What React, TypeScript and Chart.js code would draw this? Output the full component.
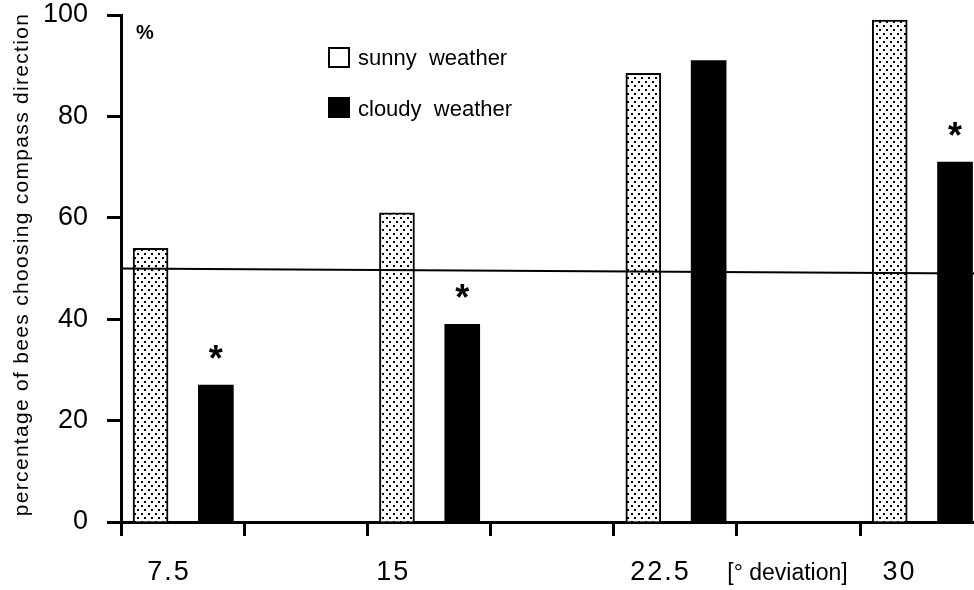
import React, { useEffect, useRef } from "react";
import { Chart, registerables } from "chart.js";

Chart.register(...registerables);

// ---------- data ----------
const categories = ["7.5", "15", "22.5", "30"];
const sunnyValues = [54, 61, 88.5, 99];
const cloudyValues = [27, 39, 91, 71];
const significant = [true, true, false, true]; // asterisk above the cloudy bar
const chanceLine = [50, 49]; // left end, right end (as drawn)
const yTickValues = [0, 20, 40, 60, 80, 100];
const seriesNames = ["sunny  weather", "cloudy  weather"];
const unitLabel = "[° deviation]";
const yTitle = "percentage of bees choosing compass direction";
const yUnit = "%";

// ---------- layout (axis units, not data) ----------
const GROUP_SPAN = 2;
const SUNNY_OFFSET = 0.24;
const CLOUDY_OFFSET = 0.77;
const LABEL_POS = [0.39, 2.21, 4.38, 6.32];
const UNIT_LABEL_POS = 5.41;
const X_MAX = 6.924;
const FONT = "'Liberation Sans', Arial, Helvetica, sans-serif";

function makeDotPattern(ctx: CanvasRenderingContext2D) {
  const c = document.createElement("canvas");
  c.width = 7;
  c.height = 8;
  const p = c.getContext("2d")!;
  p.fillStyle = "#fff";
  p.fillRect(0, 0, 7, 8);
  p.fillStyle = "#000";
  p.fillRect(1, 1, 2, 2);
  p.fillRect(4, 5, 2, 2);
  return ctx.createPattern(c, "repeat")!;
}

const textPlugin = {
  id: "figureText",
  afterDraw(chart: any) {
    const ctx: CanvasRenderingContext2D = chart.ctx;
    const xs = chart.scales.x;
    const ys = chart.scales.y;
    const area = chart.chartArea;
    ctx.save();
    ctx.fillStyle = "#000";

    // y axis title
    ctx.save();
    ctx.translate(28, (area.top + area.bottom) / 2 - 4);
    ctx.rotate(-Math.PI / 2);
    ctx.font = `21px ${FONT}`;
    (ctx as any).letterSpacing = "1.3px";
    ctx.textAlign = "center";
    ctx.textBaseline = "alphabetic";
    ctx.fillText(yTitle, 0, 0);
    ctx.restore();

    // % unit
    ctx.font = `bold 20px ${FONT}`;
    ctx.textAlign = "center";
    ctx.textBaseline = "alphabetic";
    ctx.fillText(yUnit, 145, 39);

    // category labels
    ctx.font = `27px ${FONT}`;
    (ctx as any).letterSpacing = "2px";
    categories.forEach((c, i) => {
      ctx.fillText(c, xs.getPixelForValue(LABEL_POS[i]), 580);
    });
    (ctx as any).letterSpacing = "0px";
    ctx.font = `23px ${FONT}`;
    ctx.fillText(unitLabel, xs.getPixelForValue(UNIT_LABEL_POS), 580);

    // asterisks
    ctx.font = `bold 36px ${FONT}`;
    significant.forEach((s, i) => {
      if (!s) return;
      const x = xs.getPixelForValue(i * GROUP_SPAN + CLOUDY_OFFSET);
      const top = ys.getPixelForValue(cloudyValues[i]);
      ctx.fillText("*", x, top - 35 + 21);
    });

    // legend
    ctx.textAlign = "left";
    ctx.font = `22px ${FONT}`;
    ctx.lineWidth = 2;
    ctx.strokeStyle = "#000";
    ctx.fillStyle = "#fff";
    ctx.fillRect(329, 48, 20, 19);
    ctx.strokeRect(329, 48, 20, 19);
    ctx.fillStyle = "#000";
    ctx.fillRect(328, 97, 22, 21);
    ctx.fillText(seriesNames[0], 358, 65);
    ctx.fillText(seriesNames[1], 358, 116);

    ctx.restore();
  },
};

export default function App() {
  const ref = useRef<HTMLCanvasElement>(null);

  useEffect(() => {
    const canvas = ref.current!;
    const ctx = canvas.getContext("2d")!;
    const pattern = makeDotPattern(ctx);

    const chart = new Chart(ctx, {
      type: "bar",
      data: {
        datasets: [
          {
            type: "line",
            label: "chance",
            data: [
              { x: 0, y: chanceLine[0] },
              { x: X_MAX, y: chanceLine[1] },
            ],
            borderColor: "#000",
            borderWidth: 2,
            pointRadius: 0,
            order: 0,
          } as any,
          {
            type: "bar",
            label: seriesNames[0],
            data: sunnyValues.map((v, i) => ({ x: i * GROUP_SPAN + SUNNY_OFFSET, y: v })),
            backgroundColor: pattern,
            borderColor: "#000",
            borderWidth: 2,
            barThickness: 35,
            grouped: false,
            order: 1,
          } as any,
          {
            type: "bar",
            label: seriesNames[1],
            data: cloudyValues.map((v, i) => ({ x: i * GROUP_SPAN + CLOUDY_OFFSET, y: v })),
            backgroundColor: "#000",
            borderWidth: 0,
            barThickness: 35,
            grouped: false,
            order: 1,
          } as any,
        ],
      },
      options: {
        animation: false,
        responsive: false,
        maintainAspectRatio: false,
        layout: { padding: { top: 15, right: 0, bottom: 0, left: 0 } },
        plugins: {
          legend: { display: false },
          tooltip: { enabled: false },
        },
        scales: {
          x: {
            type: "linear",
            min: 0,
            max: X_MAX,
            offset: false,
            ticks: { stepSize: 1, includeBounds: false, display: false },
            grid: {
              offset: false,
              drawOnChartArea: false,
              drawTicks: true,
              tickLength: 14,
              tickWidth: 3,
              tickColor: "#000",
            },
            border: { display: true, width: 3, color: "#000" },
            afterFit: (s: any) => {
              s.height = 68;
              s.paddingLeft = 0;
              s.paddingRight = 0;
            },
          },
          y: {
            type: "linear",
            min: 0,
            max: 100,
            afterBuildTicks: (s: any) => {
              s.ticks = yTickValues.map((v) => ({ value: v }));
            },
            ticks: {
              color: "#000",
              font: { family: FONT, size: 27 },
              padding: 19,
            },
            grid: {
              drawOnChartArea: false,
              drawTicks: true,
              tickLength: 14,
              tickWidth: 3,
              tickColor: "#000",
            },
            border: { display: true, width: 3, color: "#000" },
            afterFit: (s: any) => {
              s.width = 121;
              s.paddingTop = 0;
              s.paddingBottom = 0;
            },
          },
        },
      } as any,
      plugins: [textPlugin],
    });
    return () => chart.destroy();
  }, []);

  return (
    <div style={{ position: "fixed", left: 0, top: 0, width: 974, height: 590, background: "#fff" }}>
      <canvas ref={ref} width={974} height={590} style={{ display: "block" }} />
    </div>
  );
}
